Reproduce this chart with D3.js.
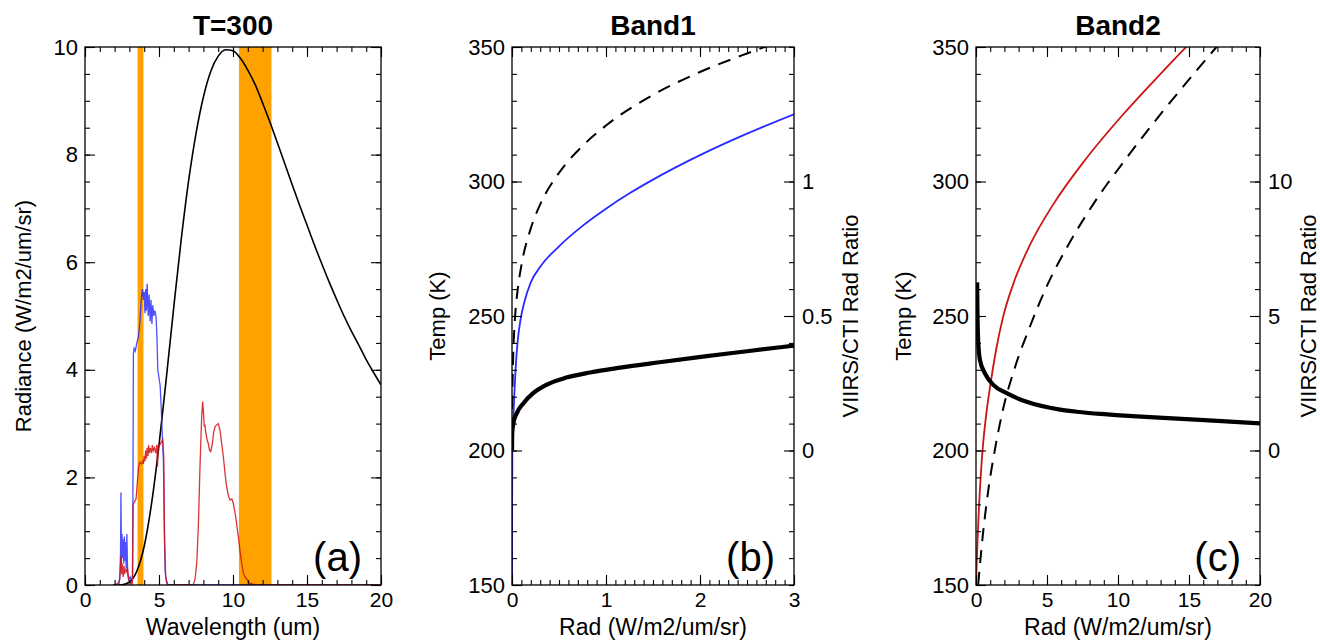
<!DOCTYPE html>
<html>
<head>
<meta charset="utf-8">
<script src="https://cdn.jsdelivr.net/npm/d3@7"></script>
<style>
  body { margin: 0; background: #fff; }
  svg text { font-family: "Liberation Sans", Arial, Helvetica, sans-serif; fill: #000; }
</style>
</head>
<body>
<svg id="chart" width="1320" height="640"></svg>
<script>
// ---- panel (a): T=300 spectrum ----
const planckPts = [[2,0],[2.5,0.006],[3,0.056],[3.5,0.255],[4,0.72],[4.5,1.52],[5,2.6],[5.5,3.86],
  [6,5.17],[6.5,6.42],[7,7.51],[7.5,8.39],[8,9.07],[8.5,9.55],[9,9.83],[9.5,9.95],[10,9.93],
  [10.5,9.79],[11,9.57],[11.5,9.3],[12,8.96],[12.5,8.6],[13,8.22],[13.5,7.83],[14,7.44],
  [14.5,7.06],[15,6.69],[15.5,6.32],[16,5.97],[16.5,5.63],[17,5.31],[17.5,5.0],[18,4.72],
  [18.5,4.46],[19,4.19],[19.5,3.95],[20,3.72]];

const band1Spec = [[1.9,0],[2.2,0.02],[2.35,0.1],[2.4,0.6],[2.43,1.72],[2.46,0.4],[2.5,0.95],[2.54,0.5],
  [2.58,0.85],[2.62,0.4],[2.66,0.9],[2.7,0.45],[2.74,0.8],[2.78,0.3],[2.83,0.95],[2.88,0.2],[2.95,0.1],
  [3.05,0.15],[3.15,0.05],[3.22,0.2],[3.27,4.3],[3.32,4.4],[3.4,4.35],[3.5,4.5],[3.6,4.6],[3.7,4.85],
  [3.8,5.3],[3.88,5.5],[3.95,5.3],[4.0,5.45],[4.05,5.05],[4.1,5.5],[4.15,5.1],[4.2,5.6],[4.27,5.0],
  [4.33,5.4],[4.4,4.9],[4.46,5.3],[4.52,4.85],[4.58,5.2],[4.65,5.0],[4.72,5.1],[4.8,5.0],[4.86,4.6],
  [4.92,4.0],[5.0,3.85],[5.08,3.7],[5.15,3.3],[5.22,2.8],[5.3,2.3],[5.36,1.0],[5.42,0.25],[5.5,0.05],
  [5.6,0],[20,0]];

const band2Spec = [[1.9,0],[2.3,0.02],[2.38,0.25],[2.43,0.55],[2.48,0.2],[2.53,0.4],[2.58,0.15],[2.63,0.35],
  [2.68,0.2],[2.73,0.3],[2.8,0.25],[2.88,0.3],[2.95,0.1],[3.05,0.05],[3.2,0.02],[3.25,1.5],[3.35,1.55],
  [3.45,1.6],[3.55,1.95],[3.62,2.2],[3.7,2.28],[3.8,2.25],[3.9,2.3],[3.95,2.25],[4.0,2.4],[4.05,2.3],
  [4.1,2.5],[4.15,2.35],[4.2,2.55],[4.25,2.4],[4.3,2.6],[4.35,2.45],[4.42,2.55],[4.5,2.45],[4.55,2.6],
  [4.62,2.5],[4.7,2.55],[4.78,2.45],[4.85,2.6],[4.9,2.2],[4.95,2.6],[5.05,2.6],[5.15,2.65],[5.25,2.7],
  [5.32,2.4],[5.38,0.8],[5.45,0.15],[5.6,0],[7.3,0],[7.43,0.1],[7.55,0.4],[7.66,1.1],[7.77,2.2],
  [7.88,3.1],[7.95,3.41],[8.02,3.15],[8.06,2.94],[8.1,2.98],[8.15,2.85],[8.25,2.7],[8.33,2.63],
  [8.42,2.5],[8.49,2.48],[8.6,2.62],[8.7,2.85],[8.8,2.95],[9.01,3.0],[9.12,2.88],[9.25,2.6],[9.35,2.38],
  [9.47,2.05],[9.57,1.83],[9.7,1.65],[9.8,1.58],[9.92,1.6],[10.02,1.52],[10.18,1.27],[10.36,0.9],
  [10.48,0.62],[10.59,0.4],[10.7,0.22],[10.81,0.15],[11.15,0.03],[11.6,0],[20,0]];

const bandWindows = [[3.55, 3.95], [10.4, 12.6]];

// ---- panel (b): Band1 ----
const b1Temp = [[0,150],[0.001,180],[0.003,197],[0.008,207],[0.015,213],[0.025,221],[0.04,231.5],
  [0.06,240.5],[0.09,248.5],[0.13,255],[0.2,262.5],[0.3,268.3],[0.5,275.9],[0.75,283.5],[1,289.9],
  [1.25,295.6],[1.5,300.7],[2,309.8],[2.5,317.8],[3,325]];
const b1TempCti = [[0,150],[0.0003,191],[0.001,203],[0.003,215.7],[0.01,231.5],[0.03,248],[0.06,259.6],
  [0.1,268.8],[0.2,282.6],[0.3,291.5],[0.5,303.2],[0.75,313.2],[1.0,320.8],[1.5,332.2],[2.0,340.7],
  [2.5,347.6],[2.75,350.8]];
const b1Ratio = [[0,0],[0.002,0.064],[0.014,0.1],[0.05,0.138],[0.12,0.175],[0.225,0.213],[0.365,0.244],
  [0.578,0.271],[0.83,0.29],[1.15,0.308],[1.57,0.328],[2.03,0.349],[2.5,0.369],[3.0,0.39]];

// ---- panel (c): Band2 ----
const b2Temp = [[0,150],[0.05,158],[0.12,168],[0.22,180],[0.35,192],[0.5,202.5],[0.7,212.5],[1.0,224],
  [1.4,237],[1.9,249.5],[2.63,262],[3.8,276.4],[5.44,291.5],[7.68,308],[10.37,325],[13.08,340.5],
  [14.72,349.6],[15,351.1]];
const b2TempCti = [[0.15,150],[0.5,169.5],[0.87,185.4],[1.34,200.6],[1.92,215.7],[2.75,231],[3.8,246.1],
  [4.98,261],[6.5,276.4],[8.26,291.6],[10.61,308.8],[13.19,326.3],[15.54,341.3],[16.71,348.6],[17,350.4]];
const b2Ratio = [[0.08,6.25],[0.1,5.2],[0.16,4.0],[0.28,3.36],[0.63,2.87],[1.22,2.44],[2.16,2.13],
  [3.57,1.81],[5.92,1.52],[7.3,1.43],[8.73,1.36],[11,1.28],[13.2,1.21],[16.7,1.11],[20,1.01]];

const svg = d3.select("#chart");
const plotTop = 47, plotBottom = 585;

function drawAxis(g, scale, side, majors, minors, fmt, pad) {
  const make = { left: d3.axisLeft, right: d3.axisRight, top: d3.axisTop, bottom: d3.axisBottom }[side];
  g.append("g").call(make(scale).tickValues(minors).tickSize(-5).tickFormat(""));
  g.append("g").call(make(scale).tickValues(majors).tickSize(-10).tickPadding(pad || 0)
    .tickFormat(fmt || (() => "")));
  g.selectAll(".domain").remove();
  g.selectAll("line").attr("stroke", "#000").attr("stroke-width", 1.1);
  g.selectAll("g").attr("font-size", 22).attr("font-family", null);
}

function panel(cfg) {
  const x = d3.scaleLinear().domain(cfg.xDomain).range([cfg.left, cfg.right]);
  const y = d3.scaleLinear().domain(cfg.yDomain).range([plotBottom, plotTop]);
  const g = svg.append("g");
  const clipId = "clip-" + cfg.id;
  svg.append("clipPath").attr("id", clipId).append("rect")
    .attr("x", cfg.left).attr("y", plotTop).attr("width", cfg.right - cfg.left).attr("height", plotBottom - plotTop);
  const plot = g.append("g").attr("clip-path", `url(#${clipId})`);

  const fmt = d => String(d);
  const xAx = g.append("g").attr("transform", `translate(0,${plotBottom})`);
  drawAxis(xAx, x, "bottom", cfg.xMajor, cfg.xMinor, fmt, 7);
  xAx.selectAll("text").attr("font-size", 21);
  drawAxis(g.append("g").attr("transform", `translate(0,${plotTop})`), x, "top", cfg.xMajor, cfg.xMinor);
  drawAxis(g.append("g").attr("transform", `translate(${cfg.left},0)`), y, "left", cfg.yMajor, cfg.yMinor, fmt, 7);

  let y2 = null;
  if (cfg.y2Domain) {
    y2 = d3.scaleLinear().domain(cfg.y2Domain).range([plotBottom, plotTop]);
    drawAxis(g.append("g").attr("transform", `translate(${cfg.right},0)`), y2, "right", cfg.y2Major, cfg.y2Minor, fmt, 8);
    g.append("text").attr("font-size", 22).attr("text-anchor", "middle").attr("dy", "0.35em")
      .attr("transform", `translate(${cfg.y2LabelX},${(plotTop + plotBottom) / 2}) rotate(-90)`)
      .text("VIIRS/CTI Rad Ratio");
  } else {
    drawAxis(g.append("g").attr("transform", `translate(${cfg.right},0)`), y, "right", cfg.yMajor, cfg.yMinor);
  }

  g.append("rect").attr("x", cfg.left).attr("y", plotTop)
    .attr("width", cfg.right - cfg.left).attr("height", plotBottom - plotTop)
    .attr("fill", "none").attr("stroke", "#000").attr("stroke-width", 1.3);

  g.append("text").attr("x", (cfg.left + cfg.right) / 2).attr("y", 35)
    .attr("text-anchor", "middle").attr("font-size", 28).attr("font-weight", "bold").text(cfg.title);
  g.append("text").attr("x", (cfg.left + cfg.right) / 2).attr("y", 635)
    .attr("text-anchor", "middle").attr("font-size", 23).text(cfg.xLabel);
  g.append("text").attr("font-size", 22).attr("text-anchor", "middle").attr("dy", "0.35em")
    .attr("transform", `translate(${cfg.yLabelX},${(plotTop + plotBottom) / 2}) rotate(-90)`)
    .text(cfg.yLabel);
  g.append("text").attr("x", cfg.right - 19).attr("y", 571).attr("text-anchor", "end")
    .attr("font-size", 40).text(cfg.letter);

  return { x, y, y2, plot, g };
}

function line(x, y, curve) {
  return d3.line().x(d => x(d[0])).y(d => y(d[1])).curve(curve || d3.curveLinear);
}

// (a)
const pa = panel({
  id: "a", left: 85, right: 381, xDomain: [0, 20], yDomain: [0, 10],
  xMajor: [0, 5, 10, 15, 20], xMinor: d3.range(0, 20.01, 1),
  yMajor: [0, 2, 4, 6, 8, 10], yMinor: d3.range(0, 10.01, 0.5),
  title: "T=300", xLabel: "Wavelength (um)", yLabel: "Radiance (W/m2/um/sr)", yLabelX: 23, letter: "(a)"
});
// orange windows sit in the clipped group, under the axes
pa.plot.selectAll("rect.win").data(bandWindows).join("rect").attr("class", "win")
  .attr("x", d => pa.x(d[0])).attr("width", d => pa.x(d[1]) - pa.x(d[0]))
  .attr("y", plotTop).attr("height", plotBottom - plotTop).attr("fill", "#ffa200");
pa.plot.append("path").datum(planckPts).attr("d", line(pa.x, pa.y, d3.curveMonotoneX))
  .attr("fill", "none").attr("stroke", "#000").attr("stroke-width", 1.6);
pa.plot.append("path").datum(band1Spec).attr("d", line(pa.x, pa.y))
  .attr("fill", "none").attr("stroke", "#2222ff").attr("stroke-opacity", 0.8).attr("stroke-width", 1.3);
pa.plot.append("path").datum(band2Spec).attr("d", line(pa.x, pa.y))
  .attr("fill", "none").attr("stroke", "#d41010").attr("stroke-opacity", 0.85).attr("stroke-width", 1.3);

// (b)
const pb = panel({
  id: "b", left: 512, right: 794, xDomain: [0, 3], yDomain: [150, 350],
  xMajor: [0, 1, 2, 3], xMinor: d3.range(0, 3.001, 0.1),
  yMajor: [150, 200, 250, 300, 350], yMinor: d3.range(150, 350.1, 10),
  y2Domain: [-0.5, 1.5], y2Major: [0, 0.5, 1], y2Minor: d3.range(-0.5, 1.501, 0.1), y2LabelX: 850,
  title: "Band1", xLabel: "Rad (W/m2/um/sr)", yLabel: "Temp (K)", yLabelX: 437, letter: "(b)"
});
pb.plot.append("path").datum(b1TempCti).attr("d", line(pb.x, pb.y, d3.curveMonotoneX))
  .attr("fill", "none").attr("stroke", "#000").attr("stroke-width", 2).attr("stroke-dasharray", "13,9");
pb.plot.append("path").datum(b1Temp).attr("d", line(pb.x, pb.y, d3.curveMonotoneX))
  .attr("fill", "none").attr("stroke", "#2a2aff").attr("stroke-width", 1.8);
pb.plot.append("path").datum(b1Ratio).attr("d", line(pb.x, pb.y2, d3.curveMonotoneX))
  .attr("fill", "none").attr("stroke", "#000").attr("stroke-width", 4.2);

// (c)
const pc = panel({
  id: "c", left: 976, right: 1260, xDomain: [0, 20], yDomain: [150, 350],
  xMajor: [0, 5, 10, 15, 20], xMinor: d3.range(0, 20.01, 1),
  yMajor: [150, 200, 250, 300, 350], yMinor: d3.range(150, 350.1, 10),
  y2Domain: [-5, 15], y2Major: [0, 5, 10], y2Minor: d3.range(-5, 15.01, 1), y2LabelX: 1308,
  title: "Band2", xLabel: "Rad (W/m2/um/sr)", yLabel: "Temp (K)", yLabelX: 903, letter: "(c)"
});
pc.plot.append("path").datum(b2TempCti).attr("d", line(pc.x, pc.y, d3.curveMonotoneX))
  .attr("fill", "none").attr("stroke", "#000").attr("stroke-width", 2).attr("stroke-dasharray", "13,9");
pc.plot.append("path").datum(b2Temp).attr("d", line(pc.x, pc.y, d3.curveMonotoneX))
  .attr("fill", "none").attr("stroke", "#cc1414").attr("stroke-width", 1.8);
pc.plot.append("path").datum(b2Ratio).attr("d", line(pc.x, pc.y2, d3.curveMonotoneX))
  .attr("fill", "none").attr("stroke", "#000").attr("stroke-width", 4.2);
</script>
</body>
</html>
